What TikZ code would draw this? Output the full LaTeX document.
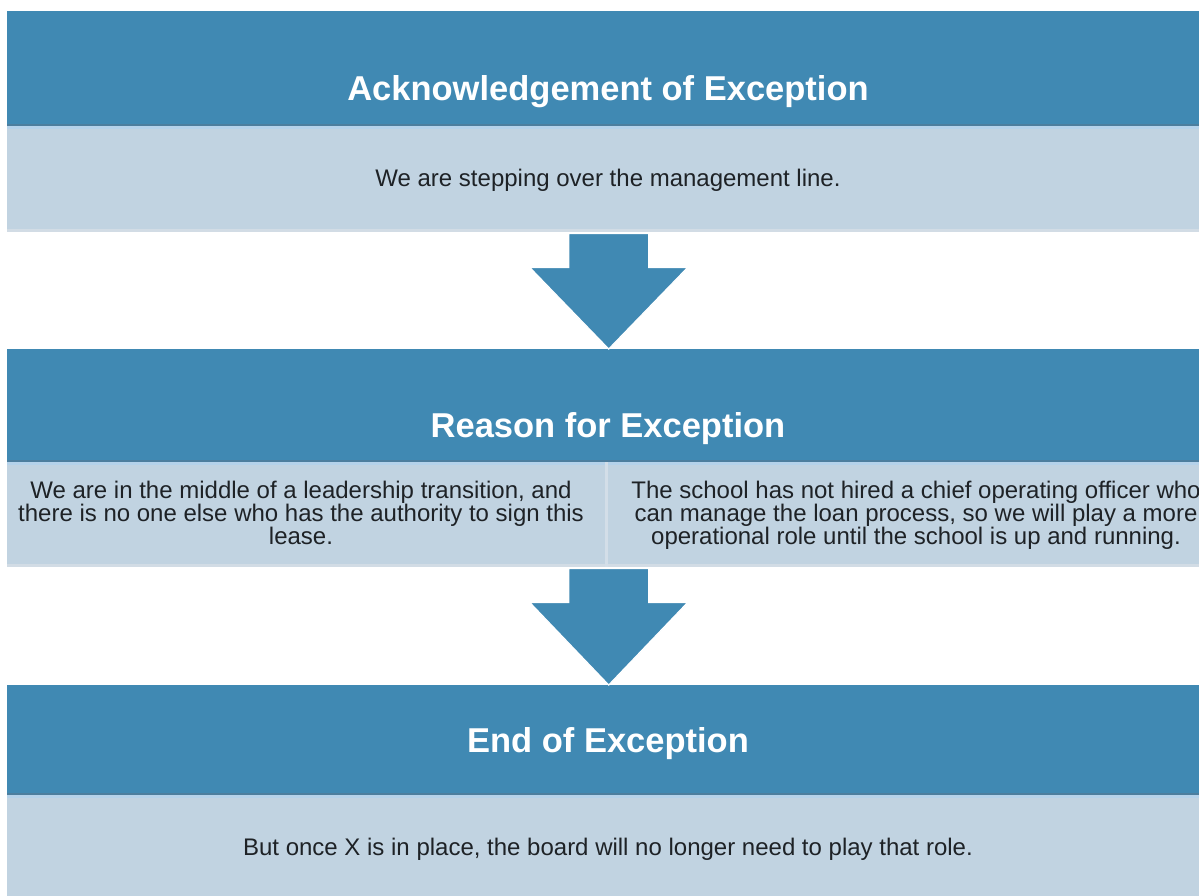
\documentclass[tikz,border=0pt]{standalone}
\usepackage{fontspec}
\setmainfont{Liberation Sans}
\usetikzlibrary{calc}
\definecolor{hdrblue}{HTML}{4089B3}
\definecolor{hdrshade}{HTML}{4D7E9E}
\definecolor{panel}{HTML}{C1D3E1}
\definecolor{panelhi}{HTML}{B5D2EA}
\definecolor{panellow}{HTML}{D2DCE5}
\definecolor{divider}{HTML}{D3DEE8}
\definecolor{ink}{HTML}{1E2226}
\begin{document}
\begin{tikzpicture}[x=1pt,y=-1pt,
  hdrbox/.style={fill=hdrblue, draw=none, inner sep=0pt, minimum width=1203pt, anchor=north west},
  panelbox/.style={fill=panel, draw=none, inner sep=0pt, anchor=north west},
  hdrtxt/.style={text=white, inner sep=0pt, font=\fontsize{34.5}{40}\selectfont\bfseries},
  bodytxt/.style={text=ink, inner sep=0pt, font=\fontsize{24}{23}\selectfont},
  flowarrow/.style={fill=hdrblue, draw=white, line width=1.2pt, line join=miter}
]
\useasboundingbox (0,0) rectangle (1199,896);
\clip (0,0) rectangle (1199,896);

% header bars and their text panels
\node[hdrbox, minimum height=115pt] (h1) at (7,11) {};
\node[panelbox, minimum width=1203pt, minimum height=106pt] (p1) at (7,126) {};
\node[hdrbox, minimum height=113pt] (h2) at (7,349) {};
\node[panelbox, minimum width=598pt, minimum height=105pt] (p2l) at (7,462) {};
\node[panelbox, minimum width=610pt, minimum height=105pt] (p2r) at (608,462) {};
\node[hdrbox, minimum height=110pt] (h3) at (7,685) {};
\node[panelbox, minimum width=1203pt, minimum height=110pt] (p3) at (7,795) {};

% thin shading where header meets panel
\foreach \h/\p in {h1/p1, h2/p2l, h3/p3}{
  \fill[hdrshade] ($(\h.south west)+(0,-2)$) rectangle (\h.south east);
}
\foreach \p in {p1, p2l, p2r, p3}{
  \fill[panelhi] (\p.north west) rectangle ($(\p.north east)+(0,3)$);
}
\foreach \p in {p1, p2l, p2r}{
  \fill[panellow] ($(\p.south west)+(0,-3)$) rectangle (\p.south east);
}
\fill[divider] (p2l.north east) rectangle (p2r.south west);

% block arrows between stages
\coordinate (p2b) at (h2.south |- p2l.south);
\foreach \a/\b in {p1.south/h2.north, p2b/h3.north}{
  \filldraw[flowarrow]
    ($(\a)+(-40,1)$) -- ($(\a)+(40,1)$) -- ($(\a)+(40,35)$) -- ($(\a)+(79,35)$)
    -- (\b) -- ($(\a)+(-79,35)$) -- ($(\a)+(-40,35)$) -- cycle;
}

% texts
\node[hdrtxt, anchor=base] (t1) at (608,101) {Acknowledgement of Exception};
\node[bodytxt, anchor=base] (b1) at (608,187) {We are stepping over the management line.};
\node[hdrtxt, anchor=base] (t2) at (608,437) {Reason for Exception};
\node[bodytxt, align=center] (b2l) at (301,512.5)
  {We are in the middle of a leadership transition, and\\there is no one else who has the authority to sign this\\lease.};
\node[bodytxt, align=center] (b2r) at (916,515)
  {The school has not hired a chief operating officer who\\can manage the loan process, so we will play a more\\operational role until the school is up and running.};
\node[hdrtxt, anchor=base] (t3) at (608,752) {End of Exception};
\node[bodytxt, anchor=base] (b3) at (608,855) {But once X is in place, the board will no longer need to play that role.};
\end{tikzpicture}
\end{document}
